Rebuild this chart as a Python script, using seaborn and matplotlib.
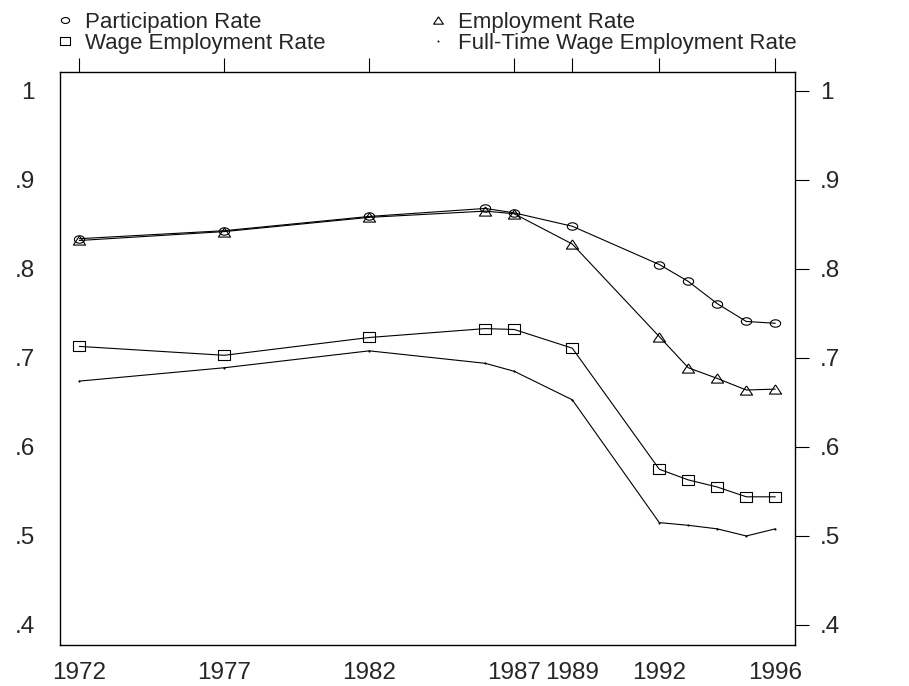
import matplotlib
matplotlib.use("Agg")
import matplotlib.pyplot as plt
from matplotlib.lines import Line2D
import numpy as np
import seaborn as sns
import pandas as pd

# data
years = [1972, 1977, 1982, 1986, 1987, 1989, 1992, 1993, 1994, 1995, 1996]
participation = [0.834, 0.843, 0.859, 0.868, 0.863, 0.848, 0.805, 0.786, 0.761, 0.741, 0.739]
employment = [0.832, 0.842, 0.858, 0.865, 0.862, 0.828, 0.724, 0.689, 0.677, 0.664, 0.665]
wage_emp = [0.713, 0.703, 0.723, 0.733, 0.732, 0.711, 0.575, 0.563, 0.555, 0.544, 0.544]
fulltime_wage = [0.674, 0.689, 0.708, 0.694, 0.685, 0.653, 0.515, 0.512, 0.508, 0.500, 0.508]

xticks = [1972, 1977, 1982, 1987, 1989, 1992, 1996]
yticks = [0.4, 0.5, 0.6, 0.7, 0.8, 0.9, 1.0]
ytick_labels = [".4", ".5", ".6", ".7", ".8", ".9", "1"]

labels = ["Participation Rate", "Employment Rate",
          "Wage Employment Rate", "Full-Time Wage Employment Rate"]

# Stata-like hollow symbols: flat ellipse, flat triangle, flat square, dot
t = np.linspace(0, 2 * np.pi, 40)
ellipse = list(zip(np.cos(t), 0.72 * np.sin(t)))
triangle = [(0, 0.75), (-1, -0.75), (1, -0.75), (0, 0.75)]
square = [(-1, -0.8), (1, -0.8), (1, 0.8), (-1, 0.8), (-1, -0.8)]
markers = [ellipse, triangle, square, "."]
msizes = [7.4, 8.8, 8.8, 1.5]

sns.set_style("white")
plt.rcParams["font.family"] = ["Liberation Sans", "DejaVu Sans"]

df = pd.DataFrame({"year": years,
                   labels[0]: participation,
                   labels[1]: employment,
                   labels[2]: wage_emp,
                   labels[3]: fulltime_wage})

fig = plt.figure(figsize=(9.09, 6.86), dpi=100)
ax = fig.add_axes([60 / 909, 1 - 645 / 686, 735 / 909, 573 / 686])

for lab, mk, ms in zip(labels, markers, msizes):
    sns.lineplot(data=df, x="year", y=lab, ax=ax, color="black", linewidth=0.8,
                 marker=mk, markersize=ms, markerfacecolor="none",
                 markeredgecolor="black", markeredgewidth=0.8)

ax.set_xlim(1971.335, 1996.68)
ax.set_ylim(0.3775, 1.0213)
ax.set_xticks(xticks)
ax.set_xticklabels([str(y) for y in xticks])
ax.set_yticks(yticks)
ax.set_yticklabels(ytick_labels)
ax.set_xlabel("")
ax.set_ylabel("")

for s in ax.spines.values():
    s.set_color("black")
    s.set_linewidth(1.0)
ax.tick_params(axis="both", direction="out", length=10, width=0.8,
               color="black", labelsize=17.5, top=True, right=True,
               labelright=True)
ax.tick_params(axis="y", pad=8)
ax.tick_params(axis="x", pad=2)

handles = [Line2D([], [], linestyle="none", marker=mk, markersize=ms * 0.8,
                  markerfacecolor="none", markeredgecolor="black",
                  markeredgewidth=0.8)
           for mk, ms in zip(markers, msizes)]
leg_kw = dict(loc="upper left", frameon=False, fontsize=16, ncol=1,
              handlelength=0.55, handletextpad=0.62, labelspacing=0.0,
              borderpad=0, borderaxespad=0)
fig.legend([handles[0], handles[2]], [labels[0], labels[2]],
           bbox_to_anchor=(59 / 909, 1 - 12 / 686), **leg_kw)
fig.legend([handles[1], handles[3]], [labels[1], labels[3]],
           bbox_to_anchor=(432 / 909, 1 - 12 / 686), **leg_kw)

fig.savefig("out.png", dpi=100)
